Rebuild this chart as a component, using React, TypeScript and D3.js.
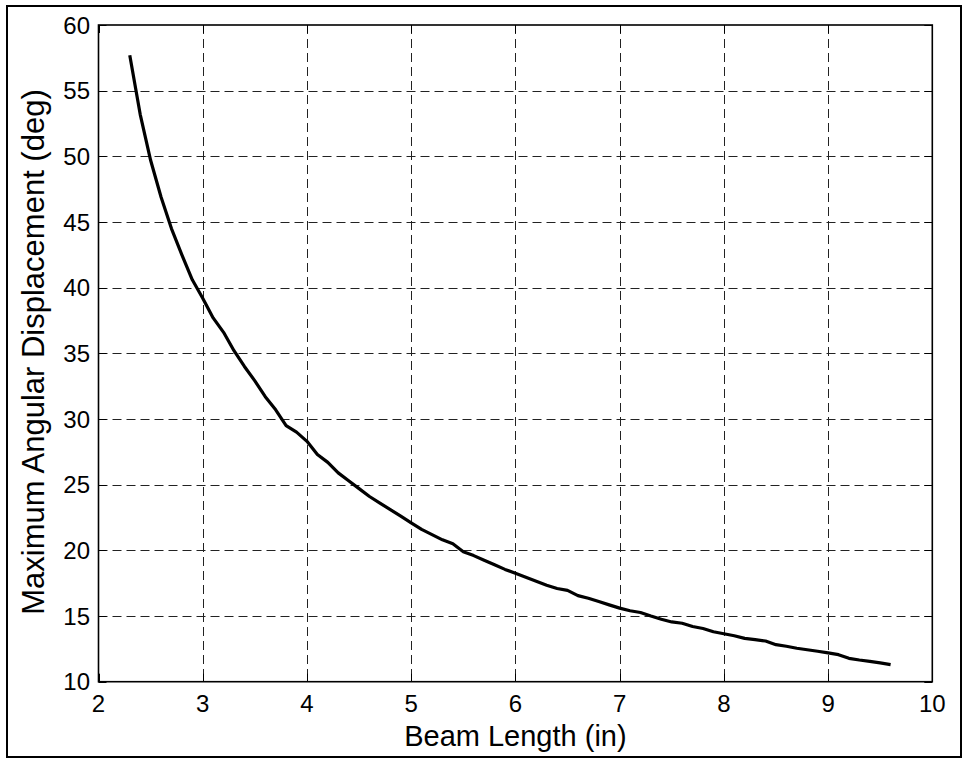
import React, { useEffect, useRef } from "react";
import * as d3 from "d3";

const beamLength = [
  2.3, 2.4, 2.5, 2.6, 2.7, 2.8, 2.9, 3.0, 3.1, 3.2, 3.3, 3.4, 3.5, 3.6, 3.7, 3.8, 3.9,
  4.0, 4.1, 4.2, 4.3, 4.4, 4.5, 4.6, 4.7, 4.8, 4.9, 5.0, 5.1, 5.2, 5.3, 5.4, 5.5, 5.6,
  5.7, 5.8, 5.9, 6.0, 6.1, 6.2, 6.3, 6.4, 6.5, 6.6, 6.7, 6.8, 6.9, 7.0, 7.1, 7.2, 7.3,
  7.4, 7.5, 7.6, 7.7, 7.8, 7.9, 8.0, 8.1, 8.2, 8.3, 8.4, 8.5, 8.6, 8.7, 8.8, 8.9, 9.0,
  9.1, 9.2, 9.3, 9.4, 9.5, 9.6,
];
const maxAngle = [
  57.7, 53.2, 49.7, 46.9, 44.5, 42.5, 40.6, 39.2, 37.7, 36.6, 35.2, 34.0, 32.9, 31.7,
  30.7, 29.5, 29.0, 28.3, 27.3, 26.7, 25.9, 25.3, 24.7, 24.1, 23.6, 23.1, 22.6, 22.1,
  21.6, 21.2, 20.8, 20.5, 19.9, 19.6, 19.25, 18.9, 18.55, 18.25, 17.95, 17.65, 17.35,
  17.1, 16.95, 16.55, 16.35, 16.1, 15.85, 15.6, 15.4, 15.27, 15.0, 14.75, 14.55, 14.45,
  14.2, 14.05, 13.8, 13.65, 13.5, 13.3, 13.2, 13.1, 12.82, 12.7, 12.55, 12.43, 12.32,
  12.2, 12.06, 11.78, 11.65, 11.55, 11.43, 11.3,
];
const xTicks = [2, 3, 4, 5, 6, 7, 8, 9, 10];
const yTicks = [10, 15, 20, 25, 30, 35, 40, 45, 50, 55, 60];
const xLabel = "Beam Length (in)";
const yLabel = "Maximum Angular Displacement (deg)";

const W = 966;
const H = 759;
const left = 98.5;
const right = 932.3;
const top = 25;
const bottom = 681.7;
const FONT = "'Liberation Sans', Arial, Helvetica, sans-serif";

export default function App() {
  const ref = useRef<SVGSVGElement | null>(null);

  useEffect(() => {
    const svg = d3.select(ref.current);
    svg.selectAll("*").remove();

    const x = d3.scaleLinear().domain([2, 10]).range([left, right]);
    const y = d3.scaleLinear().domain([10, 60]).range([bottom, top]);

    svg.append("rect").attr("x", 0).attr("y", 0).attr("width", W).attr("height", H).attr("fill", "#fff");
    svg
      .append("rect")
      .attr("x", 7)
      .attr("y", 6)
      .attr("width", 954)
      .attr("height", 751)
      .attr("fill", "none")
      .attr("stroke", "#000")
      .attr("stroke-width", 2);

    const g = svg.append("g");
    g.selectAll("line.vg")
      .data(xTicks.slice(1, -1))
      .enter()
      .append("line")
      .attr("x1", (d) => Math.round(x(d)) + 0.5)
      .attr("x2", (d) => Math.round(x(d)) + 0.5)
      .attr("y1", top)
      .attr("y2", bottom)
      .attr("stroke", "#222")
      .attr("stroke-width", 1)
      .attr("stroke-dasharray", "9,5");
    g.selectAll("line.hg")
      .data(yTicks.slice(1, -1))
      .enter()
      .append("line")
      .attr("y1", (d) => Math.round(y(d)) + 0.5)
      .attr("y2", (d) => Math.round(y(d)) + 0.5)
      .attr("x1", left)
      .attr("x2", right)
      .attr("stroke", "#222")
      .attr("stroke-width", 1)
      .attr("stroke-dasharray", "9,5");

    const tl = 8;
    xTicks.forEach((t) => {
      const px = Math.round(x(t)) + 0.5;
      g.append("line").attr("x1", px).attr("x2", px).attr("y1", bottom).attr("y2", bottom - tl).attr("stroke", "#000");
      g.append("line").attr("x1", px).attr("x2", px).attr("y1", top).attr("y2", top + tl).attr("stroke", "#000");
    });
    yTicks.forEach((t) => {
      const py = Math.round(y(t)) + 0.5;
      g.append("line").attr("y1", py).attr("y2", py).attr("x1", left).attr("x2", left + tl).attr("stroke", "#000");
      g.append("line").attr("y1", py).attr("y2", py).attr("x1", right).attr("x2", right - tl).attr("stroke", "#000");
    });

    g.append("rect")
      .attr("x", left)
      .attr("y", top)
      .attr("width", right - left)
      .attr("height", bottom - top)
      .attr("fill", "none")
      .attr("stroke", "#000")
      .attr("stroke-width", 1.6);

    const data = beamLength.map((b, i) => [b, maxAngle[i]] as [number, number]);
    const line = d3
      .line<[number, number]>()
      .x((d) => x(d[0]))
      .y((d) => y(d[1]));
    g.append("path")
      .attr("d", line(data) as string)
      .attr("fill", "none")
      .attr("stroke", "#000")
      .attr("stroke-width", 3.2)
      .attr("stroke-linejoin", "round");

    g.selectAll("text.xt")
      .data(xTicks)
      .enter()
      .append("text")
      .attr("x", (d) => x(d))
      .attr("y", 712)
      .attr("text-anchor", "middle")
      .attr("font-family", FONT)
      .attr("font-size", 24)
      .text((d) => String(d));
    g.selectAll("text.yt")
      .data(yTicks)
      .enter()
      .append("text")
      .attr("x", 90)
      .attr("y", (d) => y(d) + 8.5)
      .attr("text-anchor", "end")
      .attr("font-family", FONT)
      .attr("font-size", 24)
      .text((d) => String(d));

    g.append("text")
      .attr("x", (left + right) / 2)
      .attr("y", 746)
      .attr("text-anchor", "middle")
      .attr("font-family", FONT)
      .attr("font-size", 29)
      .text(xLabel);
    g.append("text")
      .attr("transform", `translate(44, 352) rotate(-90)`)
      .attr("text-anchor", "middle")
      .attr("font-family", FONT)
      .attr("font-size", 31)
      .text(yLabel);
  }, []);

  return (
    <svg
      ref={ref}
      width={W}
      height={H}
      style={{ position: "absolute", left: 0, top: 0, display: "block" }}
    />
  );
}
